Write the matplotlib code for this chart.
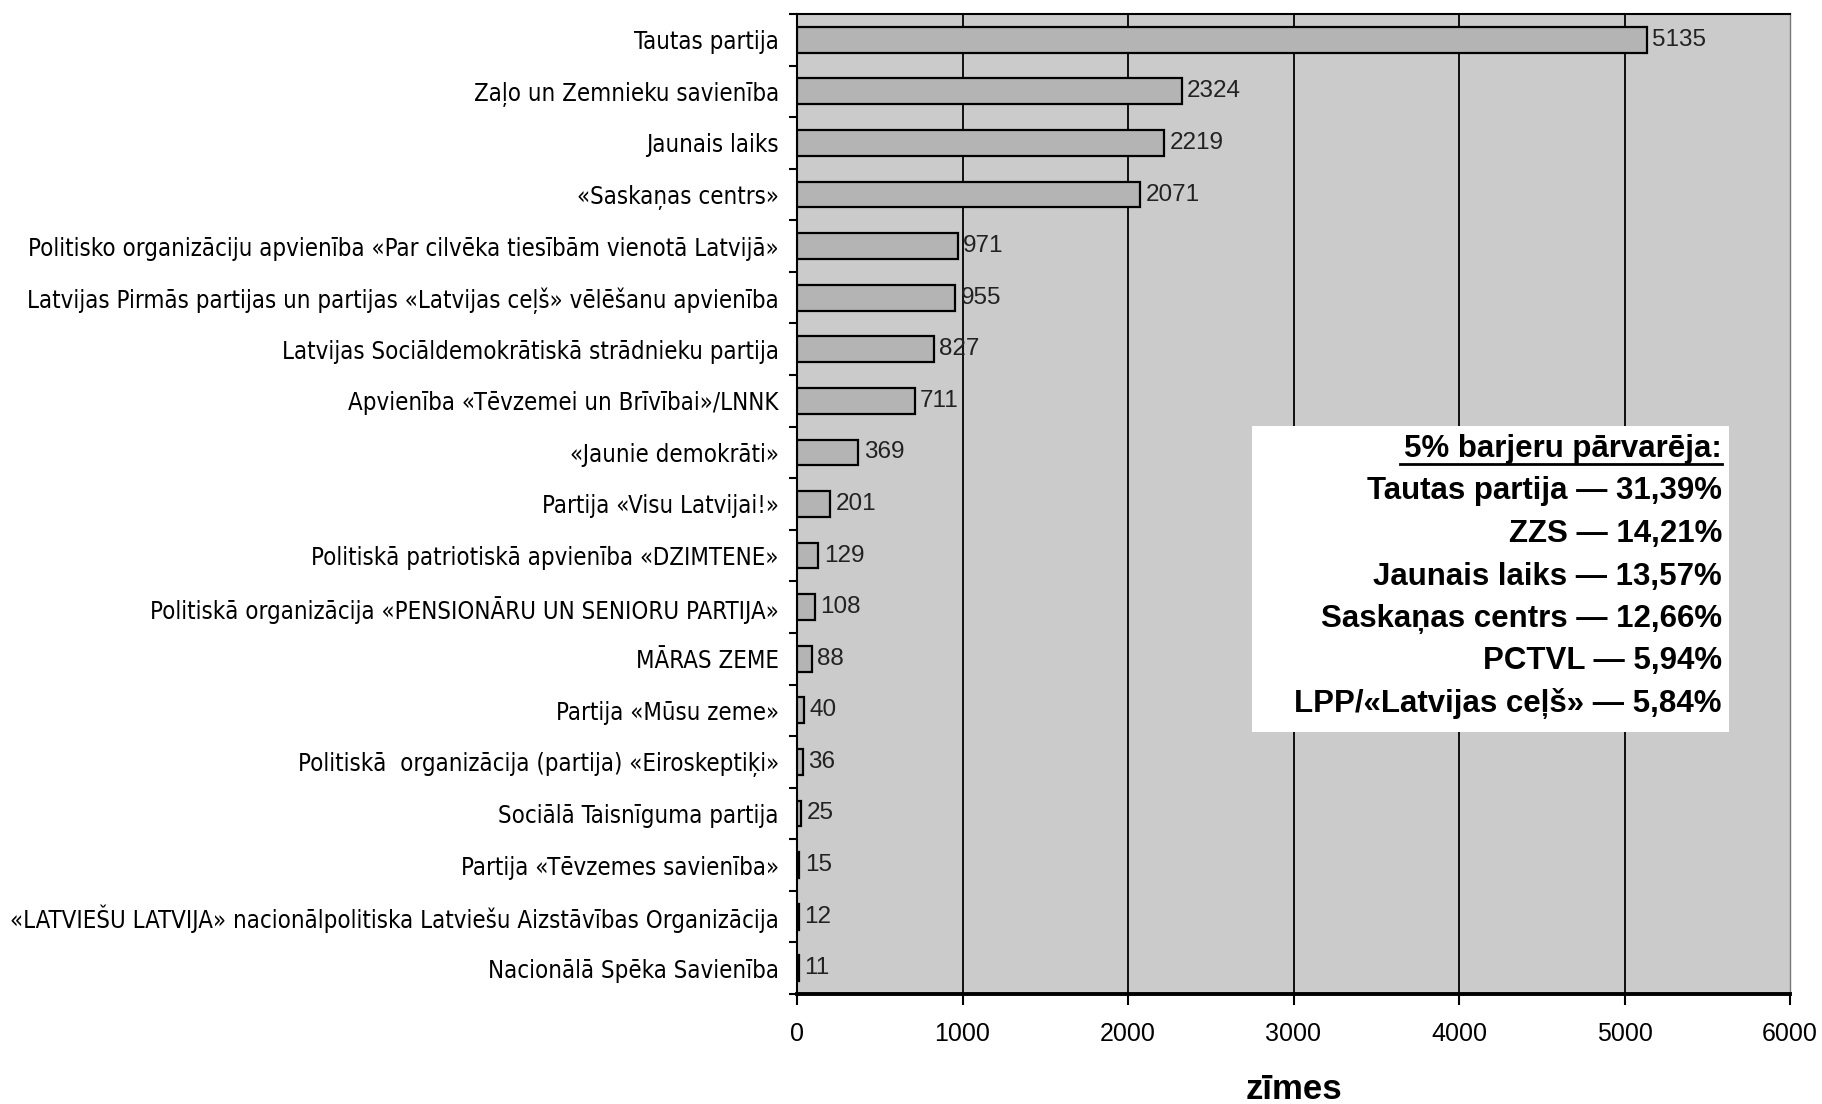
import matplotlib
matplotlib.use("Agg")
import matplotlib.pyplot as plt
from matplotlib import font_manager
from matplotlib.font_manager import FontProperties
import numpy as np

# Data ---------------------------------------------------------
parties = [
    "Tautas partija",
    "Zaļo un Zemnieku savienība",
    "Jaunais laiks",
    "«Saskaņas centrs»",
    "Politisko organizāciju apvienība «Par cilvēka tiesībām vienotā Latvijā»",
    "Latvijas Pirmās partijas un partijas «Latvijas ceļš» vēlēšanu apvienība",
    "Latvijas Sociāldemokrātiskā strādnieku partija",
    "Apvienība «Tēvzemei un Brīvībai»/LNNK",
    "«Jaunie demokrāti»",
    "Partija «Visu Latvijai!»",
    "Politiskā patriotiskā apvienība «DZIMTENE»",
    "Politiskā organizācija «PENSIONĀRU UN SENIORU PARTIJA»",
    "MĀRAS ZEME",
    "Partija «Mūsu zeme»",
    "Politiskā  organizācija (partija) «Eiroskeptiķi»",
    "Sociālā Taisnīguma partija",
    "Partija «Tēvzemes savienība»",
    "«LATVIEŠU LATVIJA» nacionālpolitiska Latviešu Aizstāvības Organizācija",
    "Nacionālā Spēka Savienība",
]
votes = [5135, 2324, 2219, 2071, 971, 955, 827, 711, 369, 201, 129, 108,
         88, 40, 36, 25, 15, 12, 11]

xticks = [0, 1000, 2000, 3000, 4000, 5000, 6000]
xlabel = "zīmes"

box_title = "5% barjeru pārvarēja:"
box_lines = [
    "Tautas partija — 31,39%",
    "ZZS — 14,21%",
    "Jaunais laiks — 13,57%",
    "Saskaņas centrs — 12,66%",
    "PCTVL — 5,94%",
    "LPP/«Latvijas ceļš» — 5,84%",
]

# Styles -------------------------------------------------------
regular = "Liberation Sans"

# look for a condensed sans face for the long party names
cond_fp = None
for f in font_manager.fontManager.ttflist:
    if (f.stretch in ("condensed", "semi-condensed", "extra-condensed")
            and f.style == "normal" and f.weight in (400, "normal", "regular")
            and "Mono" not in f.name and "Serif" not in f.name):
        cond_fp = f.fname
        break

bg_color = "#cbcbcb"
bar_color = "#b4b4b4"

W, H = 1822, 1104
fig = plt.figure(figsize=(W / 100, H / 100), dpi=100)
ax = fig.add_axes([797 / W, 1 - 994 / H, (1790 - 797) / W, (994 - 14) / H])
ax.set_facecolor(bg_color)

ypos = np.arange(len(parties))
ax.barh(ypos, votes, height=0.5, color=bar_color, edgecolor="black",
        linewidth=1.6, zorder=3)

for y, v in zip(ypos, votes):
    ax.annotate(str(v), (v, y), xytext=(4, 0), textcoords="offset points",
                va="center", ha="left", fontsize=17.5, family=regular,
                color="#222222", zorder=4)

ax.set_xlim(0, 6000)
ax.set_ylim(len(parties) - 0.5, -0.5)
ax.set_xticks(xticks)
ax.set_xticklabels([str(t) for t in xticks], fontsize=18, family=regular)
ax.set_yticks(ypos)
if cond_fp:
    label_fp = FontProperties(fname=cond_fp, size=19.5)
else:
    label_fp = FontProperties(family=regular, size=19.5)
ax.set_yticklabels(parties, fontproperties=label_fp)
ax.set_yticks(np.arange(len(parties) + 1) - 0.5, minor=True)

ax.tick_params(axis="y", which="major", length=0, pad=13)
ax.tick_params(axis="y", which="minor", length=6, width=1.5, direction="out")
ax.tick_params(axis="x", length=8, width=1.5, pad=12)

# shrink the party names so the longest one fits like in the original
fig.canvas.draw()
renderer = fig.canvas.get_renderer()
widest = max(t.get_window_extent(renderer).width for t in ax.get_yticklabels())
target = 779 - 10
if widest > target:
    new_size = 19.5 * target / widest
    for t in ax.get_yticklabels():
        t.set_fontsize(new_size)

for x in xticks[1:-1]:
    ax.axvline(x, color="black", linewidth=1.3, zorder=1)

for side in ["left", "top"]:
    ax.spines[side].set_linewidth(1.5)
ax.spines["bottom"].set_linewidth(2.8)
ax.spines["right"].set_linewidth(1.0)
ax.spines["right"].set_color("#777777")

fig.text(0.5 * (797 + 1790) / W, 1 - 1099 / H, xlabel, ha="center",
         va="baseline", fontsize=25, fontweight="bold", family=regular)

# Annotation box ----------------------------------------------
box = plt.Rectangle((1252 / W, 1 - 732 / H), (1729 - 1252) / W, (732 - 426) / H,
                    transform=fig.transFigure, facecolor="white",
                    edgecolor="none", zorder=5)
fig.patches.append(box)

right_x = 1722 / W
first_base = 457
step = 42.5
fig.text(right_x, 1 - first_base / H, box_title, ha="right", va="baseline",
         fontsize=22.5, fontweight="bold", family=regular, zorder=6)
fig.add_artist(plt.Line2D([1400 / W, 1722 / W], [1 - 464 / H, 1 - 464 / H],
                          transform=fig.transFigure, color="black",
                          linewidth=2, zorder=6))
for i, line in enumerate(box_lines):
    fig.text(right_x, 1 - (first_base + step * (i + 1)) / H, line, ha="right",
             va="baseline", fontsize=22.5, fontweight="bold", family=regular,
             zorder=6)

fig.savefig("out.png", dpi=100)
